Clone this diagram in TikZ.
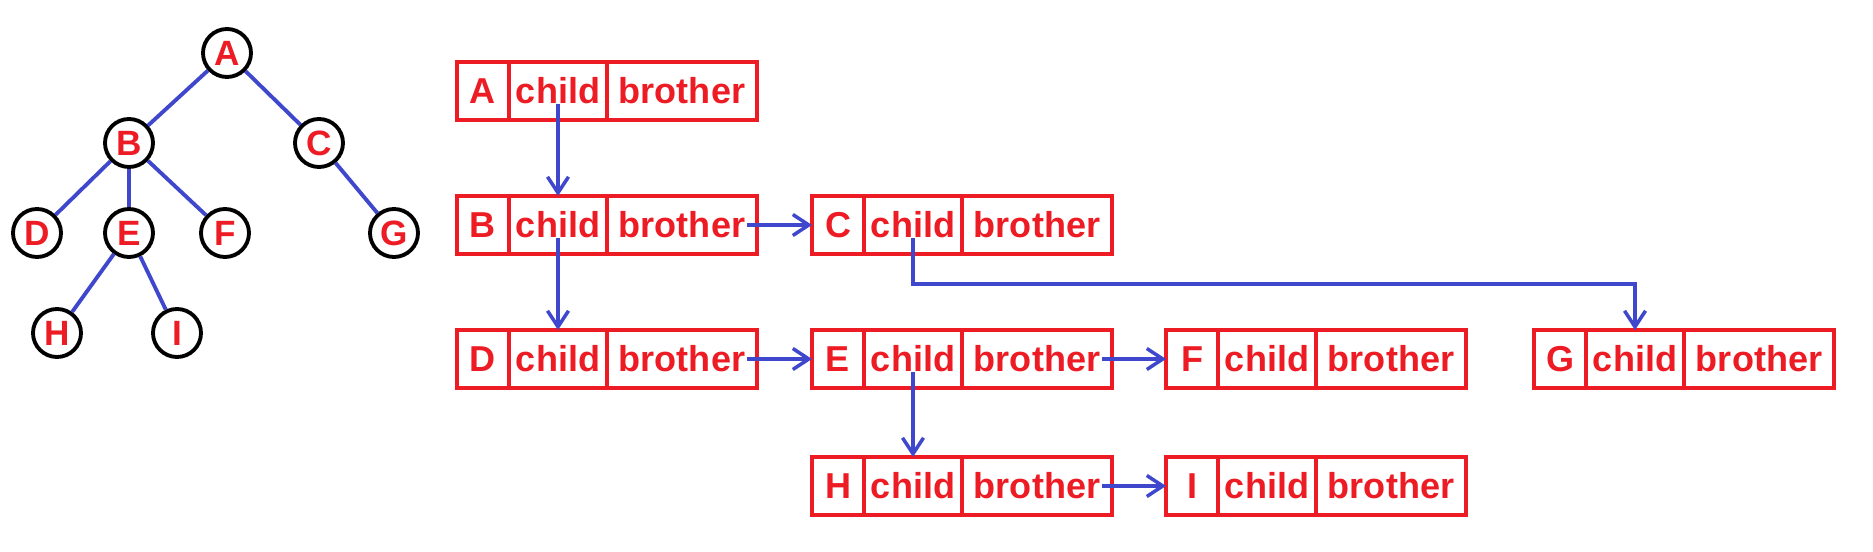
\documentclass[tikz,border=0pt]{standalone}
\usepackage{fontspec}
\setmainfont{Liberation Sans}
\usetikzlibrary{positioning,arrows.meta}

\definecolor{pred}{RGB}{237,28,36}
\definecolor{pblue}{RGB}{63,72,204}

\tikzstyle{circ} = [circle, minimum size=0.96cm, inner sep=0pt, line width=2.2pt, draw=black, text=pred, font=\fontsize{20}{22}\selectfont\bfseries]
\tikzstyle{tedge} = [line width=2.2pt, pblue]
\tikzstyle{cell} = [rectangle, draw=pred, line width=2pt, text=pred, minimum height=1.16cm, inner sep=0pt, outer sep=0pt, font=\fontsize{20.5}{22}\selectfont\bfseries]
\tikzstyle{keycell} = [cell, minimum width=1.04cm]
\tikzstyle{childcell} = [cell, minimum width=1.96cm]
\tikzstyle{brocell} = [cell, minimum width=3cm]
\tikzstyle{arrow} = [line width=2pt, pblue, -{Straight Barb[length=3.2mm,width=4.2mm]}]

\begin{document}
\begin{tikzpicture}[node distance=1.8cm]
\useasboundingbox (0,0) rectangle (37.46,-11.04);

% tree
\node (A) [circ] at (4.54,-1.06) {A};
\node (B) [circ, below of=A, xshift=-1.96cm] {B};
\node (C) [circ, below of=A, xshift=1.84cm] {C};
\node (D) [circ, below of=B, xshift=-1.84cm] {D};
\node (E) [circ, below of=B] {E};
\node (F) [circ, below of=B, xshift=1.92cm] {F};
\node (G) [circ, below of=C, xshift=1.5cm] {G};
\node (H) [circ, below of=E, xshift=-1.44cm, yshift=-0.2cm] {H};
\node (I) [circ, below of=E, xshift=0.96cm, yshift=-0.2cm] {I};

\draw [tedge] (A) -- (B);
\draw [tedge] (A) -- (C);
\draw [tedge] (B) -- (D);
\draw [tedge] (B) -- (E);
\draw [tedge] (B) -- (F);
\draw [tedge] (C) -- (G);
\draw [tedge] (E) -- (H);
\draw [tedge] (E) -- (I);

% child-brother records
\node (Ak) [keycell] at (9.66,-1.82) {A};
\node (Ac) [childcell, right=0pt of Ak] {child};
\node (Ab) [brocell, right=0pt of Ac] {brother};

\node (Bk) [keycell, below=1.52cm of Ak] {B};
\node (Bc) [childcell, right=0pt of Bk] {child};
\node (Bb) [brocell, right=0pt of Bc] {brother};

\node (Ck) [keycell, right=1.1cm of Bb] {C};
\node (Cc) [childcell, right=0pt of Ck] {child};
\node (Cb) [brocell, right=0pt of Cc] {brother};

\node (Dk) [keycell, below=1.52cm of Bk] {D};
\node (Dc) [childcell, right=0pt of Dk] {child};
\node (Db) [brocell, right=0pt of Dc] {brother};

\node (Ek) [keycell, right=1.1cm of Db] {E};
\node (Ec) [childcell, right=0pt of Ek] {child};
\node (Eb) [brocell, right=0pt of Ec] {brother};

\node (Fk) [keycell, right=1.08cm of Eb] {F};
\node (Fc) [childcell, right=0pt of Fk] {child};
\node (Fb) [brocell, right=0pt of Fc] {brother};

\node (Gk) [keycell, right=1.36cm of Fb] {G};
\node (Gc) [childcell, right=0pt of Gk] {child};
\node (Gb) [brocell, right=0pt of Gc] {brother};

\node (Hk) [keycell, below=1.38cm of Ek] {H};
\node (Hc) [childcell, right=0pt of Hk] {child};
\node (Hb) [brocell, right=0pt of Hc] {brother};

\node (Ik) [keycell, right=1.08cm of Hb] {I};
\node (Ic) [childcell, right=0pt of Ik] {child};
\node (Ib) [brocell, right=0pt of Ic] {brother};

% links
\draw [arrow] (Ac.base) -- (Bc.north);
\draw [arrow] (Bc.base) -- (Dc.north);
\draw [arrow] (Ec.base) -- (Hc.north);
\draw [arrow] ([xshift=-0.2cm]Bb.east) -- (Ck.west);
\draw [arrow] ([xshift=-0.2cm]Db.east) -- (Ek.west);
\draw [arrow] ([xshift=-0.2cm]Eb.east) -- (Fk.west);
\draw [arrow] ([xshift=-0.2cm]Hb.east) -- (Ik.west);
\draw [arrow] (Cc.base) |- ([yshift=0.92cm]Gc.north) -| (Gc.north);
\end{tikzpicture}
\end{document}
